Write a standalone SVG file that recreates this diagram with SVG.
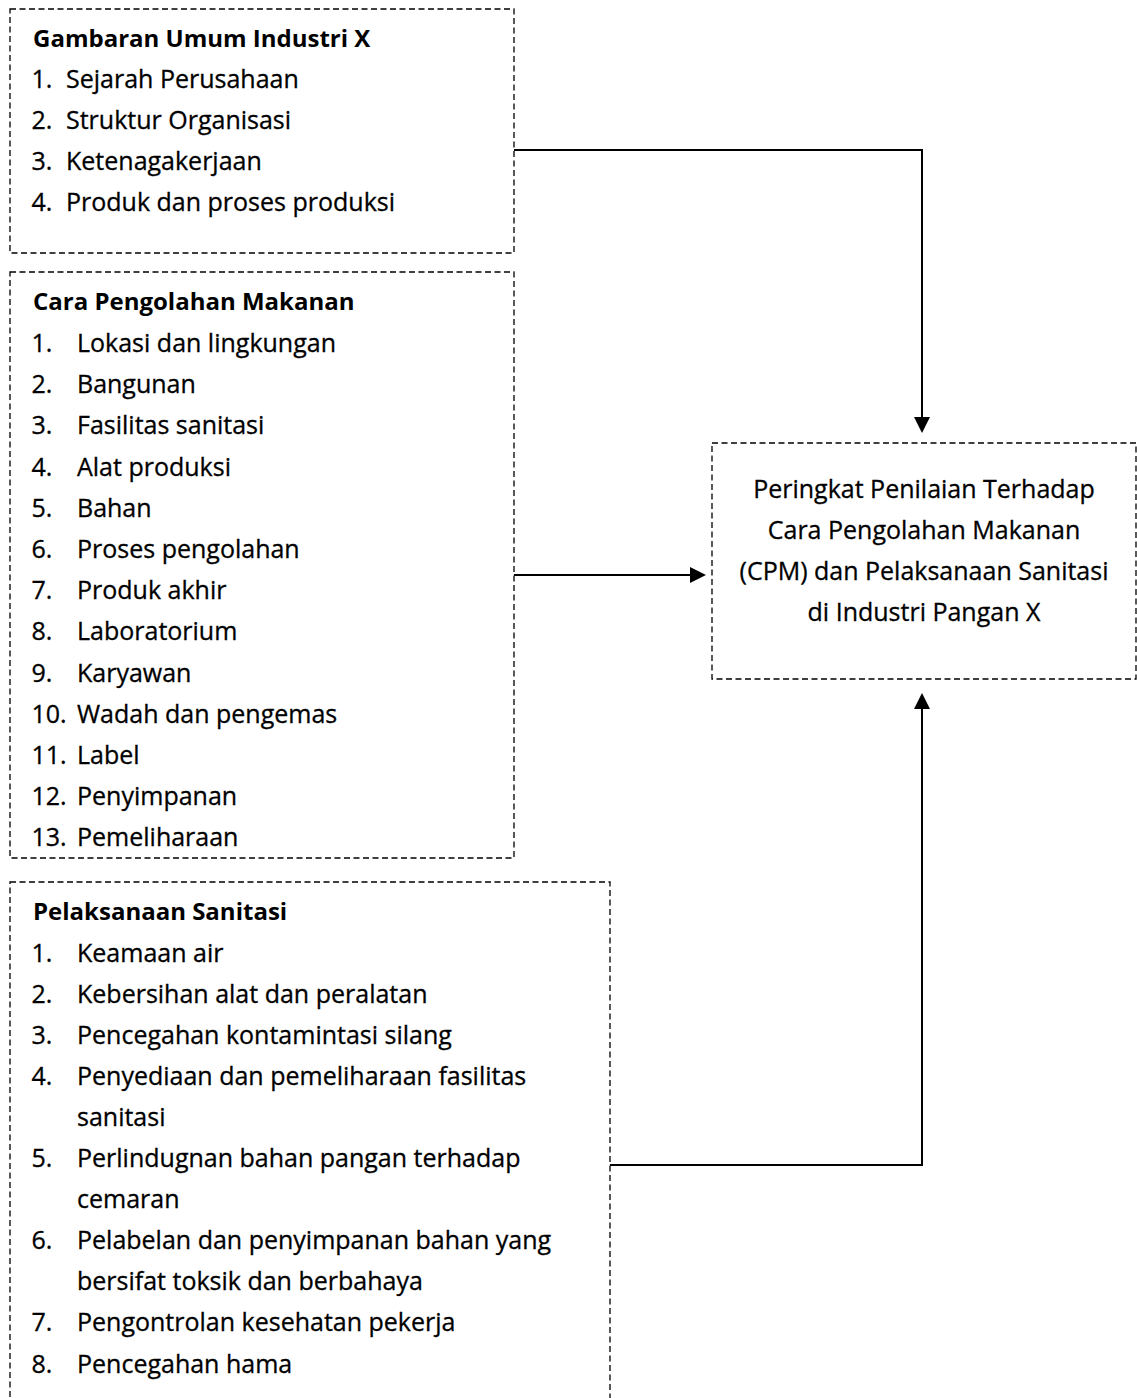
<svg xmlns="http://www.w3.org/2000/svg" width="1137" height="1398" viewBox="0 0 1137 1398">
<style>
  .box { fill: none; stroke: #000; stroke-width: 1.3; stroke-dasharray: 6 3.5; }
  .t { font-family: "Open Sans", "Liberation Sans", sans-serif; font-size: 25px; fill: #000; stroke: #000; stroke-width: 0.3; }
  .h { font-family: "Open Sans", "Liberation Sans", sans-serif; font-size: 24px; font-weight: bold; fill: #000; }
  .c { text-anchor: middle; }
  .conn { fill: none; stroke: #000; stroke-width: 2; }
</style>
<defs>
  <marker id="arr" markerUnits="userSpaceOnUse" markerWidth="18" markerHeight="18" refX="0" refY="8" orient="auto" viewBox="0 0 18 16">
    <path d="M0,0 L16,8 L0,16 Z" fill="#000"/>
  </marker>
</defs>
<rect width="1137" height="1398" fill="#fff"/>

<g id="node-gambaran">
  <rect class="box" x="10" y="9" width="504" height="244"/>
  <text class="h" x="33" y="47">Gambaran Umum Industri X</text>
  <text class="t" x="31.5" y="87.5">1.</text><text class="t" x="66" y="87.5">Sejarah Perusahaan</text>
  <text class="t" x="31.5" y="128.5">2.</text><text class="t" x="66" y="128.5">Struktur Organisasi</text>
  <text class="t" x="31.5" y="170">3.</text><text class="t" x="66" y="170">Ketenagakerjaan</text>
  <text class="t" x="31.5" y="211">4.</text><text class="t" x="66" y="211">Produk dan proses produksi</text>
</g>

<g id="node-cpm">
  <rect class="box" x="10" y="272" width="504" height="586"/>
  <text class="h" x="33" y="310">Cara Pengolahan Makanan</text>
  <text class="t" x="31.5" y="352">1.</text><text class="t" x="77" y="352">Lokasi dan lingkungan</text>
  <text class="t" x="31.5" y="393.2">2.</text><text class="t" x="77" y="393.2">Bangunan</text>
  <text class="t" x="31.5" y="434.4">3.</text><text class="t" x="77" y="434.4">Fasilitas sanitasi</text>
  <text class="t" x="31.5" y="475.6">4.</text><text class="t" x="77" y="475.6">Alat produksi</text>
  <text class="t" x="31.5" y="516.8">5.</text><text class="t" x="77" y="516.8">Bahan</text>
  <text class="t" x="31.5" y="558">6.</text><text class="t" x="77" y="558">Proses pengolahan</text>
  <text class="t" x="31.5" y="599.2">7.</text><text class="t" x="77" y="599.2">Produk akhir</text>
  <text class="t" x="31.5" y="640.4">8.</text><text class="t" x="77" y="640.4">Laboratorium</text>
  <text class="t" x="31.5" y="681.6">9.</text><text class="t" x="77" y="681.6">Karyawan</text>
  <text class="t" x="31.5" y="722.8">10.</text><text class="t" x="77" y="722.8">Wadah dan pengemas</text>
  <text class="t" x="31.5" y="764">11.</text><text class="t" x="77" y="764">Label</text>
  <text class="t" x="31.5" y="805.2">12.</text><text class="t" x="77" y="805.2">Penyimpanan</text>
  <text class="t" x="31.5" y="846.4">13.</text><text class="t" x="77" y="846.4">Pemeliharaan</text>
</g>

<g id="node-sanitasi">
  <rect class="box" x="10" y="882" width="600" height="560"/>
  <text class="h" x="33" y="920">Pelaksanaan Sanitasi</text>
  <text class="t" x="31.5" y="961.5">1.</text><text class="t" x="77" y="961.5">Keamaan air</text>
  <text class="t" x="31.5" y="1002.6">2.</text><text class="t" x="77" y="1002.6">Kebersihan alat dan peralatan</text>
  <text class="t" x="31.5" y="1043.7">3.</text><text class="t" x="77" y="1043.7">Pencegahan kontamintasi silang</text>
  <text class="t" x="31.5" y="1084.8">4.</text><text class="t" x="77" y="1084.8">Penyediaan dan pemeliharaan fasilitas</text>
  <text class="t" x="77" y="1125.9">sanitasi</text>
  <text class="t" x="31.5" y="1167">5.</text><text class="t" x="77" y="1167">Perlindugnan bahan pangan terhadap</text>
  <text class="t" x="77" y="1208.1">cemaran</text>
  <text class="t" x="31.5" y="1249.2">6.</text><text class="t" x="77" y="1249.2">Pelabelan dan penyimpanan bahan yang</text>
  <text class="t" x="77" y="1290.3">bersifat toksik dan berbahaya</text>
  <text class="t" x="31.5" y="1331.4">7.</text><text class="t" x="77" y="1331.4">Pengontrolan kesehatan pekerja</text>
  <text class="t" x="31.5" y="1372.5">8.</text><text class="t" x="77" y="1372.5">Pencegahan hama</text>
</g>

<g id="node-peringkat">
  <rect class="box" x="712" y="443" width="424" height="236"/>
  <text class="t c" x="924" y="498">Peringkat Penilaian Terhadap</text>
  <text class="t c" x="924" y="539">Cara Pengolahan Makanan</text>
  <text class="t c" x="924" y="580">(CPM) dan Pelaksanaan Sanitasi</text>
  <text class="t c" x="924" y="621">di Industri Pangan X</text>
</g>

<g id="connectors">
  <path class="conn" d="M514,150 H922 V417" marker-end="url(#arr)"/>
  <path class="conn" d="M514,575 H690" marker-end="url(#arr)"/>
  <path class="conn" d="M610,1165 H922 V709" marker-end="url(#arr)"/>
</g>
</svg>
